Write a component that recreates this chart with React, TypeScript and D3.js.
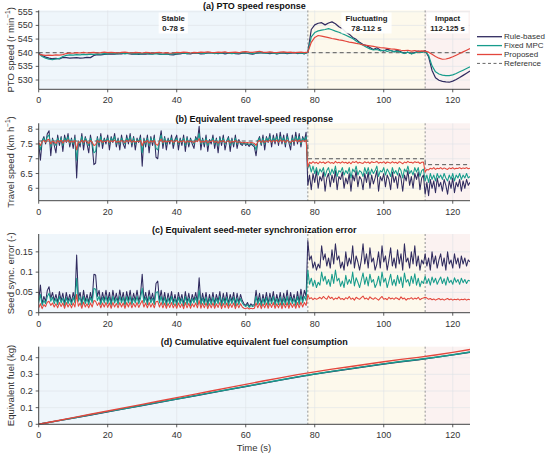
import * as d3 from "d3";
import React from "react";

// ---- data ----
const ptoTime = d3.range(0, 126);
const fastTime = d3.range(0, 251).map((i) => i * 0.5);
const fuelTime = d3.range(0, 126, 5);

const seriesNames = ["Rule-based", "Fixed MPC", "Proposed"];
const phaseEdges = [0, 78, 112, 125];
const phaseNames = ["Stable", "Fluctuating", "Impact"];
const phaseRanges = ["0-78 s", "78-112 s", "112-125 s"];

const ptoRule = [
  539.8, 539.0, 538.4, 538.0, 537.8, 537.9, 537.7, 538.3, 538.2, 538.0,
  538.1, 538.2, 538.0, 538.1, 538.3, 538.2, 539.0, 539.3, 539.2, 539.4,
  539.5, 539.6, 539.5, 539.7, 539.6, 539.8, 539.7, 539.5, 539.6, 539.4,
  539.6, 539.5, 539.7, 539.6, 539.8, 539.5, 539.4, 539.6, 539.3, 539.2,
  539.5, 539.6, 539.8, 539.7, 539.6, 539.9, 539.8, 539.6, 539.7, 539.9,
  540.0, 539.8, 539.7, 539.9, 539.6, 539.8, 539.9, 539.7, 539.6, 539.8,
  539.9, 539.7, 539.5, 539.8, 539.9, 540.0, 539.8, 539.7, 539.9, 539.6,
  539.8, 539.9, 539.7, 539.8, 540.0, 539.7, 539.9, 539.6, 540.2, 548.5,
  550.2, 550.8, 551.0, 550.2, 550.9, 551.3, 550.6, 549.5, 548.8, 547.6,
  546.8, 545.6, 544.9, 543.8, 543.0, 542.6, 541.9, 541.2, 541.8, 541.0,
  540.6, 541.3, 540.8, 540.4, 540.9, 540.3, 539.8, 540.2, 539.6, 540.1,
  540.6, 540.2, 540.8, 538.5, 533.5, 530.8, 529.9, 529.5, 529.3, 529.2,
  529.6, 530.2, 530.9, 531.7, 532.5, 533.3,
];
const ptoFixed = [
  539.6, 538.6, 538.0, 537.6, 537.5, 537.7, 537.9, 538.6, 539.0, 539.2,
  539.1, 539.3, 539.2, 539.4, 539.3, 539.5, 539.4, 539.6, 539.5, 539.7,
  539.6, 539.8, 539.6, 539.7, 539.9, 539.6, 539.8, 539.7, 539.5, 539.7,
  539.6, 539.8, 539.6, 539.5, 539.7, 539.6, 539.4, 539.6, 539.5, 539.7,
  539.6, 539.8, 539.9, 539.7, 539.8, 540.0, 539.8, 539.9, 539.7, 540.0,
  539.9, 539.7, 539.9, 539.8, 540.0, 539.8, 539.7, 539.9, 539.8, 540.0,
  539.9, 539.8, 539.7, 539.9, 540.1, 539.9, 539.8, 540.0, 539.8, 539.7,
  539.9, 540.0, 539.8, 539.9, 540.1, 539.8, 539.9, 539.7, 540.1, 545.8,
  547.4, 548.0, 548.3, 548.5, 548.8, 548.4, 547.9, 547.5, 547.0, 546.4,
  545.8, 545.2, 544.3, 543.5, 542.7, 542.0, 541.4, 541.0, 541.2, 540.7,
  540.9, 540.5, 540.8, 540.3, 540.6, 540.1, 539.7, 540.2, 539.6, 539.9,
  540.4, 540.1, 540.5, 539.0, 535.2, 533.0, 532.2, 531.8, 531.6, 531.6,
  531.9, 532.4, 533.0, 533.6, 534.2, 534.8,
];
const ptoProposed = [
  539.4, 539.2, 539.0, 539.1, 539.0, 539.2, 539.1, 539.3, 539.7, 539.9,
  539.8, 540.0, 539.9, 540.1, 539.9, 540.0, 540.1, 539.9, 540.0, 540.2,
  540.0, 540.1, 540.0, 539.9, 540.1, 540.2, 540.0, 539.9, 540.1, 540.0,
  539.9, 540.1, 540.0, 539.8, 540.0, 540.1, 539.9, 540.0, 539.8, 539.9,
  540.1, 540.0, 540.2, 540.1, 539.9, 540.1, 540.0, 540.2, 540.1, 540.3,
  540.1, 540.0, 540.2, 540.1, 540.3, 540.0, 540.1, 540.2, 540.0, 540.3,
  540.4, 540.2, 540.1, 540.3, 540.5, 540.2, 540.1, 540.3, 540.1, 540.0,
  540.2, 540.3, 540.1, 540.2, 540.0, 540.1, 540.2, 540.0, 540.2, 543.8,
  545.6, 546.3, 546.1, 545.8, 545.5, 545.2, 545.0, 544.7, 544.5, 544.2,
  543.9, 543.7, 543.4, 543.2, 542.9, 542.7, 542.5, 542.3, 542.1, 541.9,
  541.8, 541.6, 541.4, 541.3, 541.1, 540.9, 540.8, 540.9, 540.6, 540.8,
  540.5, 540.7, 540.6, 540.2, 539.4, 538.6, 538.0, 537.6, 537.7, 538.0,
  538.5, 539.1, 539.7, 540.3, 540.9, 541.5,
];
const ptoRefTime = [0, 125];
const ptoRef = [540, 540];

const travelRule = [
  7.55, 6.95, 7.6, 7.75, 7.5, 7.85, 7.95, 7.1, 7.7, 7.45,
  7.2, 7.8, 7.45, 7.75, 7.25, 7.8, 7.55, 7.85, 7.4, 7.7,
  7.35, 7.8, 6.35, 7.6, 7.4, 7.85, 7.3, 7.75, 7.5, 7.2,
  7.8, 7.45, 6.8, 6.85, 7.75, 7.4, 7.85, 7.35, 7.7, 7.5,
  7.8, 7.3, 7.75, 7.55, 7.85, 7.4, 7.7, 7.3, 7.8, 7.5,
  7.35, 7.8, 7.5, 7.85, 7.4, 7.75, 7.3, 7.7, 7.55, 7.8,
  6.75, 7.7, 7.4, 7.8, 7.2, 7.75, 7.45, 7.8, 7.05, 7.0,
  7.6, 7.95, 7.35, 7.75, 7.3, 7.7, 7.5, 7.8, 7.35, 7.65,
  7.8, 7.3, 7.7, 7.45, 7.8, 7.25, 7.75, 7.4, 7.7, 7.5,
  7.35, 7.75, 7.6, 8.1, 7.3, 7.7, 7.4, 7.8, 7.25, 7.65,
  7.5, 7.8, 7.35, 7.7, 7.2, 7.75, 7.45, 7.8, 7.3, 7.6,
  7.75, 7.25, 7.7, 7.4, 7.8, 7.35, 7.65, 7.5, 7.45, 7.55,
  7.45, 7.5, 7.42, 7.5, 7.45, 7.4, 7.1, 7.6, 7.75, 7.45,
  7.8, 7.3, 7.75, 7.55, 7.85, 7.4, 7.8, 7.5, 7.85, 7.45,
  7.9, 7.5, 7.8, 7.4, 7.85, 7.55, 7.3, 7.8, 7.45, 7.9,
  7.5, 7.85, 7.4, 7.75, 7.6, 7.9,
  6.1, 6.45, 5.95, 6.5, 6.2, 6.6, 6.0, 6.4, 6.25, 6.55,
  5.9, 6.35, 6.5, 6.05, 6.45, 6.2, 6.6, 5.95, 6.4, 6.3,
  6.55, 6.0, 6.35, 6.15, 6.5, 5.9, 6.45, 6.25, 6.6, 6.05,
  6.4, 6.3, 5.95, 6.5, 6.2, 6.55, 6.0, 6.45, 6.15, 6.35,
  6.6, 5.9, 6.4, 6.25, 6.5, 6.05, 6.45, 6.3, 5.95, 6.55,
  6.2, 6.4, 6.0, 6.5, 6.35, 5.9, 6.45, 6.25, 6.6, 6.1,
  6.4, 6.0, 6.5, 6.3, 6.55, 5.95, 6.35, 6.45,
  5.8, 6.2, 5.75, 6.3, 6.0, 6.25, 5.85, 6.35, 6.05, 6.2,
  5.9, 6.3, 6.1, 5.8, 6.25, 6.0, 6.35, 5.85, 6.2, 6.05,
  6.3, 5.9, 6.25, 6.0, 6.3, 6.1, 6.2,
];
const travelFixed = [
  7.55, 7.3, 7.6, 7.7, 7.55, 7.75, 7.8, 7.4, 7.65, 7.55,
  7.45, 7.7, 7.55, 7.7, 7.45, 7.7, 7.6, 7.75, 7.5, 7.65,
  7.5, 7.7, 6.95, 7.6, 7.5, 7.75, 7.5, 7.7, 7.6, 7.45,
  7.7, 7.55, 7.2, 7.25, 7.7, 7.5, 7.75, 7.5, 7.65, 7.6,
  7.7, 7.5, 7.7, 7.6, 7.75, 7.5, 7.65, 7.5, 7.7, 7.6,
  7.5, 7.7, 7.6, 7.75, 7.5, 7.7, 7.5, 7.65, 7.6, 7.7,
  7.2, 7.65, 7.5, 7.7, 7.45, 7.7, 7.55, 7.7, 7.35, 7.3,
  7.6, 7.8, 7.5, 7.7, 7.5, 7.65, 7.6, 7.7, 7.5, 7.6,
  7.7, 7.5, 7.65, 7.55, 7.7, 7.45, 7.7, 7.5, 7.65, 7.6,
  7.5, 7.7, 7.6, 7.85, 7.5, 7.65, 7.5, 7.7, 7.45, 7.6,
  7.6, 7.7, 7.5, 7.65, 7.45, 7.7, 7.55, 7.7, 7.5, 7.6,
  7.7, 7.45, 7.65, 7.5, 7.7, 7.5, 7.6, 7.55, 7.5, 7.55,
  7.5, 7.52, 7.48, 7.52, 7.5, 7.47, 7.3, 7.6, 7.7, 7.5,
  7.7, 7.5, 7.7, 7.6, 7.75, 7.55, 7.7, 7.6, 7.75, 7.55,
  7.75, 7.6, 7.7, 7.5, 7.75, 7.6, 7.5, 7.7, 7.55, 7.75,
  7.6, 7.75, 7.5, 7.7, 7.6, 7.75,
  6.7, 6.8, 6.55, 6.75, 6.5, 6.7, 6.45, 6.65, 6.55, 6.7,
  6.4, 6.6, 6.7, 6.45, 6.65, 6.5, 6.75, 6.4, 6.6, 6.55,
  6.7, 6.45, 6.6, 6.5, 6.7, 6.35, 6.65, 6.55, 6.75, 6.45,
  6.6, 6.55, 6.4, 6.7, 6.5, 6.7, 6.45, 6.65, 6.5, 6.6,
  6.75, 6.4, 6.6, 6.55, 6.7, 6.45, 6.65, 6.55, 6.4, 6.7,
  6.5, 6.6, 6.45, 6.7, 6.6, 6.35, 6.65, 6.55, 6.75, 6.5,
  6.6, 6.45, 6.7, 6.55, 6.7, 6.4, 6.6, 6.65,
  6.25, 6.45, 6.2, 6.5, 6.3, 6.45, 6.25, 6.5, 6.35, 6.45,
  6.3, 6.5, 6.35, 6.25, 6.45, 6.3, 6.5, 6.25, 6.45, 6.35,
  6.5, 6.3, 6.45, 6.35, 6.5, 6.35, 6.4,
];
const travelProposed = [
  7.55, 7.45, 7.58, 7.62, 7.56, 7.64, 7.66, 7.5, 7.6, 7.56,
  7.52, 7.62, 7.56, 7.63, 7.53, 7.62, 7.58, 7.64, 7.55, 7.6,
  7.56, 7.62, 7.3, 7.58, 7.55, 7.63, 7.55, 7.62, 7.58, 7.52,
  7.62, 7.56, 7.45, 7.47, 7.62, 7.55, 7.63, 7.55, 7.6, 7.58,
  7.62, 7.55, 7.61, 7.58, 7.63, 7.55, 7.6, 7.56, 7.62, 7.58,
  7.55, 7.62, 7.58, 7.64, 7.55, 7.61, 7.56, 7.6, 7.58, 7.62,
  7.44, 7.6, 7.55, 7.62, 7.53, 7.61, 7.56, 7.62, 7.48, 7.46,
  7.58, 7.66, 7.55, 7.61, 7.56, 7.6, 7.58, 7.62, 7.55, 7.59,
  7.62, 7.55, 7.6, 7.57, 7.62, 7.54, 7.61, 7.56, 7.6, 7.58,
  7.55, 7.61, 7.58, 7.68, 7.55, 7.6, 7.56, 7.62, 7.54, 7.59,
  7.58, 7.62, 7.55, 7.6, 7.53, 7.61, 7.57, 7.62, 7.55, 7.58,
  7.61, 7.54, 7.6, 7.56, 7.62, 7.55, 7.58, 7.56, 7.54, 7.55,
  7.54, 7.55, 7.53, 7.55, 7.54, 7.52, 7.45, 7.58, 7.62, 7.55,
  7.62, 7.55, 7.61, 7.58, 7.63, 7.56, 7.62, 7.58, 7.63, 7.56,
  7.64, 7.58, 7.62, 7.55, 7.63, 7.58, 7.55, 7.62, 7.57, 7.64,
  7.58, 7.63, 7.56, 7.62, 7.58, 7.64,
  6.72, 6.88, 6.84, 6.9, 6.85, 6.88, 6.83, 6.9, 6.86, 6.89,
  6.84, 6.88, 6.9, 6.85, 6.87, 6.84, 6.91, 6.86, 6.88, 6.85,
  6.9, 6.86, 6.88, 6.84, 6.89, 6.83, 6.9, 6.87, 6.91, 6.85,
  6.88, 6.86, 6.84, 6.9, 6.86, 6.89, 6.84, 6.9, 6.87, 6.88,
  6.91, 6.85, 6.88, 6.86, 6.9, 6.84, 6.89, 6.87, 6.85, 6.9,
  6.86, 6.88, 6.84, 6.9, 6.87, 6.83, 6.89, 6.86, 6.91, 6.87,
  6.88, 6.85, 6.9, 6.87, 6.89, 6.84, 6.88, 6.89,
  6.55, 6.64, 6.62, 6.68, 6.65, 6.7, 6.64, 6.68, 6.66, 6.7,
  6.65, 6.69, 6.66, 6.64, 6.69, 6.66, 6.7, 6.65, 6.68, 6.67,
  6.7, 6.66, 6.69, 6.67, 6.7, 6.66, 6.68,
];
const travelRefTime = [0, 78, 78, 112, 112, 125];
const travelRef = [7.6, 7.6, 7.0, 7.0, 6.8, 6.8];

const syncRule = [
  0.03, 0.068, 0.022, 0.04, 0.028, 0.055, 0.064, 0.035, 0.05, 0.03,
  0.045, 0.025, 0.052, 0.03, 0.048, 0.022, 0.05, 0.028, 0.045, 0.025,
  0.05, 0.03, 0.142, 0.035, 0.05, 0.022, 0.055, 0.028, 0.045, 0.025,
  0.05, 0.03, 0.095, 0.093, 0.04, 0.055, 0.025, 0.05, 0.03, 0.055,
  0.028, 0.05, 0.022, 0.055, 0.03, 0.048, 0.025, 0.056, 0.03, 0.05,
  0.022, 0.052, 0.03, 0.055, 0.025, 0.048, 0.03, 0.055, 0.028, 0.045,
  0.095, 0.03, 0.05, 0.025, 0.055, 0.03, 0.048, 0.025, 0.072, 0.078,
  0.03, 0.055, 0.025, 0.05, 0.022, 0.048, 0.028, 0.052, 0.025, 0.045,
  0.022, 0.05, 0.028, 0.045, 0.02, 0.052, 0.025, 0.048, 0.022, 0.045,
  0.03, 0.05, 0.025, 0.086, 0.022, 0.048, 0.025, 0.05, 0.02, 0.045,
  0.025, 0.05, 0.022, 0.045, 0.028, 0.052, 0.02, 0.048, 0.025, 0.05,
  0.022, 0.045, 0.028, 0.05, 0.02, 0.048, 0.025, 0.045, 0.03, 0.022,
  0.018, 0.025, 0.015, 0.022, 0.018, 0.02, 0.055, 0.025, 0.048, 0.02,
  0.045, 0.025, 0.05, 0.022, 0.048, 0.028, 0.052, 0.022, 0.045, 0.025,
  0.05, 0.02, 0.048, 0.025, 0.055, 0.022, 0.05, 0.028, 0.045, 0.022,
  0.052, 0.025, 0.058, 0.03, 0.055, 0.04,
  0.178, 0.13, 0.14, 0.11, 0.125, 0.105, 0.12, 0.11, 0.165, 0.13,
  0.145, 0.115, 0.135, 0.11, 0.155, 0.12, 0.17, 0.13, 0.14, 0.11,
  0.125, 0.105, 0.15, 0.115, 0.135, 0.12, 0.165, 0.11, 0.14, 0.125,
  0.105, 0.13, 0.17, 0.12, 0.145, 0.11, 0.16, 0.125, 0.135, 0.105,
  0.12, 0.15, 0.11, 0.165, 0.125, 0.14, 0.105, 0.13, 0.16, 0.115,
  0.135, 0.11, 0.155, 0.12, 0.145, 0.105, 0.17, 0.125, 0.135, 0.11,
  0.15, 0.12, 0.165, 0.115, 0.14, 0.105, 0.13, 0.12,
  0.145, 0.115, 0.135, 0.105, 0.15, 0.12, 0.14, 0.11, 0.13, 0.145,
  0.115, 0.135, 0.105, 0.15, 0.12, 0.13, 0.11, 0.145, 0.12, 0.135,
  0.11, 0.14, 0.12, 0.135, 0.115, 0.13, 0.125,
];
const syncFixed = [
  0.025, 0.045, 0.018, 0.03, 0.022, 0.04, 0.048, 0.028, 0.038, 0.022,
  0.035, 0.02, 0.04, 0.024, 0.036, 0.018, 0.038, 0.022, 0.035, 0.02,
  0.038, 0.024, 0.085, 0.028, 0.038, 0.018, 0.04, 0.022, 0.035, 0.02,
  0.038, 0.024, 0.06, 0.058, 0.03, 0.04, 0.02, 0.038, 0.024, 0.04,
  0.022, 0.038, 0.018, 0.04, 0.024, 0.036, 0.02, 0.04, 0.024, 0.038,
  0.018, 0.04, 0.024, 0.04, 0.02, 0.036, 0.024, 0.04, 0.022, 0.035,
  0.06, 0.024, 0.038, 0.02, 0.04, 0.024, 0.036, 0.02, 0.05, 0.052,
  0.024, 0.04, 0.02, 0.038, 0.018, 0.036, 0.022, 0.04, 0.02, 0.035,
  0.018, 0.038, 0.022, 0.035, 0.016, 0.04, 0.02, 0.036, 0.018, 0.035,
  0.024, 0.038, 0.02, 0.055, 0.018, 0.036, 0.02, 0.038, 0.016, 0.035,
  0.02, 0.038, 0.018, 0.035, 0.022, 0.04, 0.016, 0.036, 0.02, 0.038,
  0.018, 0.035, 0.022, 0.038, 0.016, 0.036, 0.02, 0.035, 0.024, 0.018,
  0.015, 0.02, 0.013, 0.018, 0.015, 0.017, 0.04, 0.02, 0.036, 0.016,
  0.035, 0.02, 0.038, 0.018, 0.036, 0.022, 0.04, 0.018, 0.035, 0.02,
  0.038, 0.016, 0.036, 0.02, 0.04, 0.018, 0.038, 0.022, 0.035, 0.018,
  0.04, 0.02, 0.042, 0.024, 0.04, 0.03,
  0.105, 0.07, 0.085, 0.065, 0.08, 0.062, 0.075, 0.068, 0.1, 0.078,
  0.09, 0.07, 0.082, 0.065, 0.095, 0.072, 0.105, 0.078, 0.085, 0.065,
  0.078, 0.062, 0.092, 0.07, 0.082, 0.072, 0.1, 0.066, 0.086, 0.075,
  0.062, 0.08, 0.098, 0.07, 0.088, 0.066, 0.095, 0.075, 0.082, 0.062,
  0.072, 0.09, 0.066, 0.1, 0.075, 0.085, 0.062, 0.078, 0.095, 0.068,
  0.082, 0.066, 0.092, 0.072, 0.088, 0.062, 0.098, 0.075, 0.082, 0.066,
  0.09, 0.072, 0.096, 0.068, 0.085, 0.064, 0.078, 0.072,
  0.09, 0.072, 0.084, 0.068, 0.088, 0.074, 0.085, 0.07, 0.08, 0.088,
  0.072, 0.084, 0.068, 0.088, 0.074, 0.08, 0.07, 0.086, 0.075, 0.082,
  0.07, 0.085, 0.074, 0.082, 0.072, 0.08, 0.078,
];
const syncProposed = [
  0.012, 0.022, 0.01, 0.02, 0.015, 0.026, 0.028, 0.018, 0.024, 0.014,
  0.022, 0.012, 0.025, 0.015, 0.024, 0.011, 0.025, 0.014, 0.022, 0.012,
  0.024, 0.014, 0.045, 0.016, 0.024, 0.011, 0.026, 0.014, 0.022, 0.012,
  0.024, 0.014, 0.03, 0.028, 0.018, 0.025, 0.012, 0.024, 0.014, 0.025,
  0.013, 0.024, 0.011, 0.025, 0.014, 0.023, 0.012, 0.025, 0.014, 0.024,
  0.011, 0.025, 0.014, 0.026, 0.012, 0.023, 0.014, 0.025, 0.013, 0.022,
  0.03, 0.014, 0.024, 0.012, 0.025, 0.014, 0.023, 0.012, 0.027, 0.028,
  0.014, 0.025, 0.012, 0.024, 0.011, 0.023, 0.013, 0.025, 0.012, 0.022,
  0.011, 0.024, 0.013, 0.022, 0.01, 0.025, 0.012, 0.023, 0.011, 0.022,
  0.014, 0.024, 0.012, 0.03, 0.011, 0.023, 0.012, 0.024, 0.01, 0.022,
  0.012, 0.024, 0.011, 0.022, 0.013, 0.025, 0.01, 0.023, 0.012, 0.024,
  0.011, 0.022, 0.013, 0.024, 0.01, 0.023, 0.012, 0.022, 0.014, 0.011,
  0.01, 0.012, 0.009, 0.011, 0.01, 0.011, 0.024, 0.012, 0.023, 0.01,
  0.022, 0.012, 0.024, 0.011, 0.023, 0.013, 0.025, 0.011, 0.022, 0.012,
  0.024, 0.01, 0.023, 0.012, 0.025, 0.011, 0.024, 0.013, 0.022, 0.011,
  0.025, 0.012, 0.026, 0.014, 0.025, 0.018,
  0.044, 0.034, 0.037, 0.032, 0.036, 0.033, 0.035, 0.038, 0.034, 0.04,
  0.036, 0.033, 0.041, 0.035, 0.038, 0.032, 0.036, 0.034, 0.039, 0.033,
  0.035, 0.032, 0.037, 0.034, 0.04, 0.033, 0.036, 0.031, 0.038, 0.035,
  0.033, 0.037, 0.041, 0.034, 0.036, 0.032, 0.039, 0.035, 0.033, 0.037,
  0.034, 0.031, 0.036, 0.04, 0.033, 0.035, 0.032, 0.038, 0.034, 0.036,
  0.033, 0.037, 0.035, 0.032, 0.039, 0.034, 0.036, 0.031, 0.035, 0.034,
  0.037, 0.033, 0.036, 0.034, 0.038, 0.032, 0.035, 0.036,
  0.038, 0.036, 0.033, 0.035, 0.032, 0.034, 0.031, 0.033, 0.035, 0.032,
  0.034, 0.031, 0.033, 0.035, 0.032, 0.034, 0.031, 0.033, 0.032, 0.034,
  0.031, 0.033, 0.032, 0.034, 0.031, 0.033, 0.032,
];

const fuelRule = [
  0, 0.019, 0.037, 0.056, 0.075, 0.094, 0.113, 0.132, 0.151, 0.17,
  0.189, 0.208, 0.227, 0.246, 0.265, 0.284, 0.301, 0.317, 0.332, 0.347,
  0.362, 0.376, 0.388, 0.402, 0.417, 0.433,
];
const fuelFixed = [
  0, 0.019, 0.038, 0.057, 0.076, 0.095, 0.114, 0.133, 0.152, 0.171,
  0.19, 0.209, 0.228, 0.247, 0.266, 0.285, 0.302, 0.318, 0.333, 0.348,
  0.363, 0.377, 0.389, 0.403, 0.418, 0.434,
];
const fuelProposed = [
  0, 0.02, 0.04, 0.06, 0.08, 0.1, 0.12, 0.14, 0.16, 0.18,
  0.2, 0.22, 0.24, 0.26, 0.279, 0.298, 0.315, 0.331, 0.346, 0.361,
  0.376, 0.39, 0.402, 0.416, 0.432, 0.449,
];

const xTicks = [0, 20, 40, 60, 80, 100, 120];

// ---- styling ----
const W = 550;
const H = 455;
const FONT = "'Liberation Sans', Arial, Helvetica, sans-serif";
const colors = ["#302b5f", "#179c8c", "#e3463c"];
const phaseFill = ["#eff6fb", "#fdf9ec", "#fbf2f1"];
const refColor = "#555";

const x = d3.scaleLinear().domain([0, 125]).range([38.7, 470]);

type Pt = [number, number];
const zip = (t: number[], v: number[]): Pt[] => t.map((tt, i) => [tt, v[i]]);

const panels = [
  {
    id: "a",
    title: "(a) PTO speed response",
    label: ["PTO speed (r min", "−1", ")"],
    yDomain: [526.6, 555.5],
    yRange: [89.3, 10.4],
    yTicks: [530, 535, 540, 545, 550, 555],
    time: ptoTime,
    values: [ptoRule, ptoFixed, ptoProposed],
    refT: ptoRefTime,
    ref: ptoRef,
    width: 1.2,
  },
  {
    id: "b",
    title: "(b) Equivalent travel-speed response",
    label: ["Travel speed (km h", "−1", ")"],
    yDomain: [5.58, 8.2],
    yRange: [200.7, 123.3],
    yTicks: [6, 6.5, 7, 7.5, 8],
    time: fastTime,
    values: [travelRule, travelFixed, travelProposed],
    refT: travelRefTime,
    ref: travelRef,
    width: 1.05,
  },
  {
    id: "c",
    title: "(c) Equivalent seed-meter synchronization error",
    label: ["Seed sync. error (-)"],
    yDomain: [0, 0.194],
    yRange: [312.7, 234],
    yTicks: [0, 0.05, 0.1, 0.15],
    time: fastTime,
    values: [syncRule, syncFixed, syncProposed],
    refT: null,
    ref: null,
    width: 1.05,
  },
  {
    id: "d",
    title: "(d) Cumulative equivalent fuel consumption",
    label: ["Equivalent fuel (kg)"],
    yDomain: [0, 0.466],
    yRange: [424.3, 346.7],
    yTicks: [0, 0.1, 0.2, 0.3, 0.4],
    time: fuelTime,
    values: [fuelRule, fuelFixed, fuelProposed],
    refT: null,
    ref: null,
    width: 1.4,
  },
];

function Panel({ p }: { p: any }) {
  const y = d3.scaleLinear().domain(p.yDomain).range(p.yRange);
  const bottom = p.yRange[0];
  const top = p.yRange[1];
  const left = x.range()[0];
  const right = x.range()[1];
  const line = d3
    .line<Pt>()
    .x((d) => x(d[0]))
    .y((d) => y(d[1]));
  const clipId = "clip-" + p.id;

  return (
    <g>
      <defs>
        <clipPath id={clipId}>
          <rect x={left} y={top} width={right - left} height={bottom - top} />
        </clipPath>
      </defs>
      {phaseFill.map((c, i) => (
        <rect
          key={"bg" + i}
          x={x(phaseEdges[i])}
          y={top}
          width={x(phaseEdges[i + 1]) - x(phaseEdges[i])}
          height={bottom - top}
          fill={c}
        />
      ))}
      {xTicks.map((t) => (
        <line key={"gx" + t} x1={x(t)} x2={x(t)} y1={top} y2={bottom} stroke="#dde3e8" strokeWidth={0.6} />
      ))}
      {p.yTicks.map((v: number) => (
        <line key={"gy" + v} x1={left} x2={right} y1={y(v)} y2={y(v)} stroke="#dde3e8" strokeWidth={0.6} />
      ))}
      {[phaseEdges[1], phaseEdges[2]].map((t) => (
        <line key={"ph" + t} x1={x(t)} x2={x(t)} y1={top} y2={bottom} stroke="#888" strokeWidth={0.9} strokeDasharray="2,2" />
      ))}
      <g clipPath={`url(#${clipId})`}>
        {p.ref && (
          <path d={line(zip(p.refT, p.ref)) || ""} fill="none" stroke={refColor} strokeWidth={1} strokeDasharray="4,3" />
        )}
        {p.values.map((vals: number[], i: number) => (
          <path
            key={"s" + i}
            d={line(zip(p.time, vals)) || ""}
            fill="none"
            stroke={colors[i]}
            strokeWidth={p.width}
            strokeLinejoin="round"
          />
        ))}
      </g>
      <line x1={left} x2={right} y1={bottom} y2={bottom} stroke="#333" strokeWidth={0.9} />
      <line x1={left} x2={left} y1={top} y2={bottom} stroke="#333" strokeWidth={0.9} />
      {xTicks.map((t) => (
        <g key={"tx" + t}>
          <line x1={x(t)} x2={x(t)} y1={bottom} y2={bottom + 3} stroke="#333" strokeWidth={0.8} />
          <text x={x(t)} y={bottom + 14} textAnchor="middle" fontSize={9} fill="#333">
            {t}
          </text>
        </g>
      ))}
      {p.yTicks.map((v: number) => (
        <g key={"ty" + v}>
          <line x1={left - 3} x2={left} y1={y(v)} y2={y(v)} stroke="#333" strokeWidth={0.8} />
          <text x={left - 6} y={y(v)} dy="0.34em" textAnchor="end" fontSize={9} fill="#333">
            {String(v)}
          </text>
        </g>
      ))}
      <text x={(left + right) / 2} y={top - 1.5} textAnchor="middle" fontSize={9} fontWeight="bold" fill="#111">
        {p.title}
      </text>
      <text
        transform={`translate(13.5,${(top + bottom) / 2}) rotate(-90)`}
        textAnchor="middle"
        fontSize={9.5}
        fill="#333"
      >
        {p.label[0]}
        {p.label.length > 1 && (
          <>
            <tspan dy={-3.5} fontSize={6.5}>
              {p.label[1]}
            </tspan>
            <tspan dy={3.5}>{p.label[2]}</tspan>
          </>
        )}
      </text>
    </g>
  );
}

function Annotations() {
  const boxTop = 12.5;
  return (
    <g>
      {phaseNames.map((name, i) => {
        const cx = x((phaseEdges[i] + phaseEdges[i + 1]) / 2);
        const chars = Math.max(name.length, phaseRanges[i].length);
        const w = chars * 4.2 + 4;
        return (
          <g key={name}>
            <rect x={cx - w / 2} y={boxTop} width={w} height={21} fill="#fff" fillOpacity={0.9} />
            <text x={cx} y={21} textAnchor="middle" fontSize={7.8} fontWeight="bold" fill="#222">
              {name}
            </text>
            <text x={cx} y={31} textAnchor="middle" fontSize={7.8} fontWeight="bold" fill="#222">
              {phaseRanges[i]}
            </text>
          </g>
        );
      })}
    </g>
  );
}

function Legend() {
  const items = [...seriesNames, "Reference"];
  const rowY = [36.7, 45.6, 54.5, 63.4];
  return (
    <g>
      {items.map((name, i) => (
        <g key={name}>
          <line
            x1={477}
            x2={502}
            y1={rowY[i]}
            y2={rowY[i]}
            stroke={i < 3 ? colors[i] : "#666"}
            strokeWidth={i < 3 ? 1.3 : 1}
            strokeDasharray={i < 3 ? undefined : "3,2.5"}
          />
          <text x={504} y={rowY[i]} dy="0.33em" fontSize={8} fill="#333">
            {name}
          </text>
        </g>
      ))}
    </g>
  );
}

export default function App() {
  return (
    <div>
      <style>{"body{margin:0;background:#fff}"}</style>
      <svg width={W} height={H} style={{ display: "block", fontFamily: FONT }}>
        <rect width={W} height={H} fill="#fff" />
        {panels.map((p) => (
          <Panel key={p.id} p={p} />
        ))}
        <Annotations />
        <Legend />
        <text x={254} y={451} textAnchor="middle" fontSize={9.5} fill="#333">
          Time (s)
        </text>
      </svg>
    </div>
  );
}
